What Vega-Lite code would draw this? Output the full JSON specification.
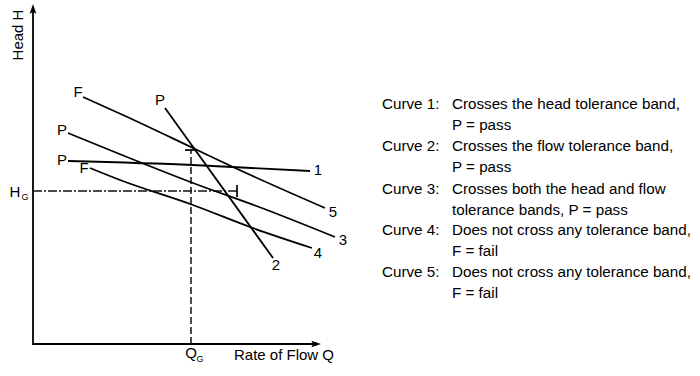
{
  "$schema": "https://vega.github.io/schema/vega-lite/v6.json",
  "width": 700,
  "height": 376,
  "autosize": {"type": "fit", "contains": "padding"},
  "padding": 0,
  "background": "white",
  "config": {"view": {"stroke": null}, "font": "Liberation Sans"},
  "datasets": {
    "axes": [
      {"part": "y", "o": 0, "Q": 0, "H": -1},
      {"part": "y", "o": 1, "Q": 0, "H": 332},
      {"part": "x", "o": 0, "Q": 0, "H": 0},
      {"part": "x", "o": 1, "Q": 281, "H": 0}
    ],
    "curves": [
      {"curve": "5", "o": 0, "Q": 50, "H": 247},
      {"curve": "5", "o": 1, "Q": 90, "H": 229},
      {"curve": "5", "o": 2, "Q": 160, "H": 196},
      {"curve": "5", "o": 3, "Q": 200, "H": 177},
      {"curve": "5", "o": 4, "Q": 292, "H": 136},
      {"curve": "2", "o": 0, "Q": 132, "H": 236},
      {"curve": "2", "o": 1, "Q": 240, "H": 86},
      {"curve": "3", "o": 0, "Q": 35, "H": 211},
      {"curve": "3", "o": 1, "Q": 84, "H": 191},
      {"curve": "3", "o": 2, "Q": 160, "H": 161},
      {"curve": "3", "o": 3, "Q": 234, "H": 134},
      {"curve": "3", "o": 4, "Q": 302, "H": 107},
      {"curve": "1", "o": 0, "Q": 35, "H": 183},
      {"curve": "1", "o": 1, "Q": 160, "H": 179},
      {"curve": "1", "o": 2, "Q": 277, "H": 173},
      {"curve": "4", "o": 0, "Q": 57, "H": 176},
      {"curve": "4", "o": 1, "Q": 87, "H": 164},
      {"curve": "4", "o": 2, "Q": 160, "H": 139},
      {"curve": "4", "o": 3, "Q": 217, "H": 117},
      {"curve": "4", "o": 4, "Q": 279, "H": 96}
    ],
    "labels": [
      {"t": "F", "Q": 45, "H": 252},
      {"t": "P", "Q": 127, "H": 244},
      {"t": "P", "Q": 29, "H": 214},
      {"t": "P", "Q": 29, "H": 184},
      {"t": "F", "Q": 51, "H": 176},
      {"t": "1", "Q": 285, "H": 174},
      {"t": "5", "Q": 300, "H": 132},
      {"t": "3", "Q": 310, "H": 104},
      {"t": "4", "Q": 285, "H": 91},
      {"t": "2", "Q": 243, "H": 79},
      {"t": "H", "Q": -18, "H": 152},
      {"t": "Q", "Q": 158, "H": -9},
      {"t": "Rate of Flow Q", "Q": 251, "H": -11}
    ],
    "subs": [
      {"t": "G", "Q": -8, "H": 147},
      {"t": "G", "Q": 167, "H": -15}
    ],
    "notes": [
      {"t": "Curve 1:", "Q": 349, "H": 240},
      {"t": "Crosses the head tolerance band,", "Q": 419, "H": 240},
      {"t": "P = pass", "Q": 419, "H": 219},
      {"t": "Curve 2:", "Q": 349, "H": 198},
      {"t": "Crosses the flow tolerance band,", "Q": 419, "H": 198},
      {"t": "P = pass", "Q": 419, "H": 177},
      {"t": "Curve 3:", "Q": 349, "H": 155},
      {"t": "Crosses both the head and flow", "Q": 419, "H": 155},
      {"t": "tolerance bands, P = pass", "Q": 419, "H": 134},
      {"t": "Curve 4:", "Q": 349, "H": 114},
      {"t": "Does not cross any tolerance band,", "Q": 419, "H": 114},
      {"t": "F = fail", "Q": 419, "H": 93},
      {"t": "Curve 5:", "Q": 349, "H": 72},
      {"t": "Does not cross any tolerance band,", "Q": 419, "H": 72},
      {"t": "F = fail", "Q": 419, "H": 51}
    ]
  },
  "encoding": {
    "x": {"field": "Q", "type": "quantitative", "scale": {"domain": [-33, 667], "nice": false, "zero": false}, "axis": null},
    "y": {"field": "H", "type": "quantitative", "scale": {"domain": [-32, 344], "nice": false, "zero": false}, "axis": null}
  },
  "layer": [
    {
      "data": {"name": "axes"},
      "mark": {"type": "line", "color": "black", "strokeWidth": 1.8},
      "encoding": {"detail": {"field": "part"}, "order": {"field": "o"}}
    },
    {
      "data": {"values": [{"Q": 0, "H": 334.5}]},
      "mark": {"type": "point", "shape": "M0,-1L0.6,0.75L0,0.45L-0.6,0.75Z", "size": 121, "filled": true, "color": "black", "opacity": 1}
    },
    {
      "data": {"values": [{"Q": 282.5, "H": 0}]},
      "mark": {"type": "point", "shape": "M1,0L-0.75,0.6L-0.45,0L-0.75,-0.6Z", "size": 121, "filled": true, "color": "black", "opacity": 1}
    },
    {
      "data": {"values": [{"Q": 0, "H": 153}, {"Q": 204, "H": 153}]},
      "mark": {"type": "line", "color": "#111", "strokeWidth": 1.5, "strokeDash": [9, 2, 2, 2]},
      "encoding": {}
    },
    {
      "data": {"values": [{"Q": 204, "H": 147}, {"Q": 204, "H": 159}]},
      "mark": {"type": "line", "color": "black", "strokeWidth": 1.7},
      "encoding": {}
    },
    {
      "data": {"values": [{"Q": 158, "H": 0}, {"Q": 158, "H": 194}]},
      "mark": {"type": "line", "color": "#111", "strokeWidth": 1.5, "strokeDash": [7, 3]},
      "encoding": {"order": {"field": "H"}}
    },
    {
      "data": {"values": [{"Q": 152, "H": 194}, {"Q": 164, "H": 194}]},
      "mark": {"type": "line", "color": "black", "strokeWidth": 1.7},
      "encoding": {}
    },
    {
      "data": {"name": "curves"},
      "mark": {"type": "line", "color": "black", "strokeWidth": 1.8, "interpolate": "monotone"},
      "encoding": {"detail": {"field": "curve"}, "order": {"field": "o"}}
    },
    {
      "data": {"name": "labels"},
      "mark": {"type": "text", "fontSize": 15, "color": "black", "align": "center", "baseline": "middle"},
      "encoding": {"text": {"field": "t"}}
    },
    {
      "data": {"name": "subs"},
      "mark": {"type": "text", "fontSize": 9, "color": "black", "align": "center", "baseline": "middle"},
      "encoding": {"text": {"field": "t"}}
    },
    {
      "data": {"values": [{"t": "Head H", "Q": -15, "H": 309}]},
      "mark": {"type": "text", "fontSize": 15, "color": "black", "align": "center", "baseline": "middle", "angle": 270},
      "encoding": {"text": {"field": "t"}}
    },
    {
      "data": {"name": "notes"},
      "mark": {"type": "text", "fontSize": 15.2, "color": "black", "align": "left", "baseline": "middle"},
      "encoding": {"text": {"field": "t"}}
    }
  ]
}
